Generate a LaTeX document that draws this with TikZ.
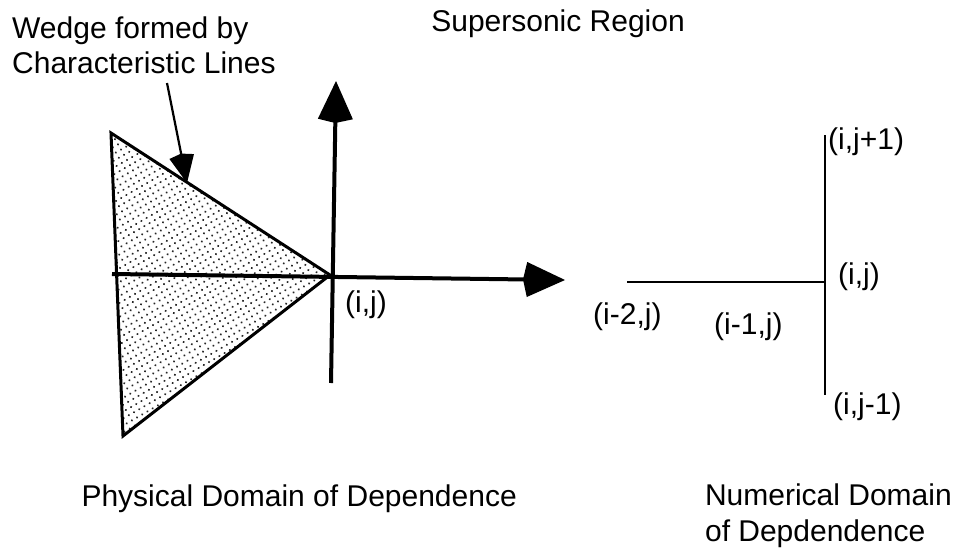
\documentclass[tikz,border=0pt]{standalone}
\usepackage{fontspec}
\setmainfont{Liberation Sans}
\usetikzlibrary{arrows.meta,patterns.meta}
\begin{document}
\begin{tikzpicture}[x=1pt,y=-1pt,
  lbl/.style={anchor=base west,inner sep=0pt,font=\fontsize{30}{35}\selectfont},
  axis/.style={line width=4pt,-{Kite[width=35pt,length=42pt,inset=4pt]}},
  grid/.style={line width=2.5pt}]
\useasboundingbox (0,0) rectangle (960,552);
% wedge
\coordinate (tl) at (111,133);
\coordinate (bl) at (123,436);
\coordinate (ap) at (330,275);
\fill[pattern={Dots[distance=6pt,radius=1.15pt,angle=30]},pattern color=black!85] (tl) -- (ap) -- (bl) -- cycle;
\draw[line width=3pt,line join=miter] (tl) -- (ap) -- (bl) -- cycle;
% axes
\coordinate (hx0) at (112,274);
\coordinate (hx1) at (565,280);
\coordinate (vy0) at (331,383);
\coordinate (vy1) at (336,81);
\draw[axis] (hx0) -- (hx1);
\draw[axis] (vy0) -- (vy1);
% pointer
\node[lbl] (wedge1) at (12,38) {Wedge formed by};
\node[lbl] (wedge2) at (12,73) {Characteristic Lines};
\coordinate (pt0) at (167,83);
\coordinate (pt1) at (187,183);
\draw[line width=2.2pt,-{Kite[width=25pt,length=30pt,inset=3pt]}] (pt0) -- (pt1);
\node[lbl,anchor=base east] (sup) at (685,31) {Supersonic Region};
\node[lbl] (ijl) at (345,312) {(i,j)};
% numerical stencil
\coordinate (ijp) at (825,135);
\coordinate (ijm) at (825,395);
\coordinate (ij) at (825,282);
\coordinate (im2) at (627,282);
\draw[grid] (ijp) -- (ijm);
\draw[grid] (im2) -- (ij);
\node[lbl] (tijp) at (828,149) {(i,j+1)};
\node[lbl] (tij) at (838,284) {(i,j)};
\node[lbl] (tim2) at (593,324) {(i-2,j)};
\node[lbl] (tim1) at (714,334) {(i-1,j)};
\node[lbl] (tijm) at (833,414) {(i,j-1)};
\node[lbl,anchor=base east] (phys) at (517,506) {Physical Domain of Dependence};
\node[lbl,anchor=base east] (num1) at (952,505) {Numerical Domain};
\node[lbl] (num2) at (num1.base west |- 0,541) {of Depdendence};
\end{tikzpicture}
\end{document}
